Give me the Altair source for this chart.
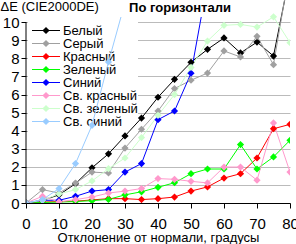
import altair as alt
import pandas as pd

# Viewing angle (degrees from the normal)
angles = [0, 5, 10, 15, 20, 25, 30, 35, 40, 45, 50, 55, 60, 65, 70, 75, 80]

# Colour difference ΔE (CIE2000) per test colour
white = [0, 0.15, 0.45, 1.07, 1.95, 2.72, 3.71, 4.7, 5.85, 6.84, 7.78, 8.5, 9.13, 8.3, 8.9, 8.13, 12.7]
grey = [0, 0.74, 0.55, 1.1, 1.71, 1.66, 3.04, 4.08, 5.09, 6.33, 6.79, 7.19, 8.41, 8.08, 9.22, 7.65, 13.0]
red = [0, 0.05, 0.08, 0.1, 0.17, 0.24, 0.24, 0.19, 0.24, 0.33, 0.66, 0.89, 1.38, 1.62, 2.49, 4.11, 4.35]
green = [0, 0.03, 0.05, 0.08, 0.13, 0.2, 0.45, 0.62, 0.87, 1.12, 1.62, 1.88, 1.88, 3.23, 1.88, 2.55, 3.47]
blue = [0, 0.15, 0.15, 0.37, 0.66, 0.74, 1.71, 2.18, 4.61, 5.09, 7.18, 12.2, None, None, None, None, None]
light_red = [0, 0.37, 0.06, 0.19, 0.33, 0.55, 0.66, 0.8, 1.35, 1.31, 1.2, 1.11, 1.99, 1.99, 1.26, 4.43, 1.71]
light_green = [0, 0.15, 0.5, 0.74, 1.22, 1.9, 2.49, 3.62, 4.85, 6.0, 7.5, 8.96, 9.83, 9.88, 9.73, 10.3, 8.87]
light_blue = [0, 0.19, 0.8, 2.18, 4.3, 7.8, 11.1, None, None, None, None, None, None, None, None, None, None]

names = ["Белый", "Серый", "Красный", "Зеленый", "Синий",
         "Св. красный", "Св. зеленый", "Св. синий"]
palette = ["#000000", "#A0A0A0", "#FF0000", "#00FF00", "#0000FF",
           "#FF99CC", "#CCFFCC", "#99CCFF"]
series = [white, grey, red, green, blue, light_red, light_green, light_blue]

y_ticks = list(range(0, 11))
x_ticks = list(range(0, 81, 10))

title_text = "По горизонтали"
y_title = "ΔE (CIE2000DE)"
x_title = "Отклонение от нормали, градусы"

rows = []
for k, (name, vals) in enumerate(zip(names, series)):
    for a, v in zip(angles, vals):
        if v is not None:
            rows.append({"angle": a, "dE": v, "series": name, "order": k})
df = pd.DataFrame(rows)
legend_df = pd.DataFrame({"series": names})

color = alt.Color("series:N", scale=alt.Scale(domain=names, range=palette), legend=None)
x_axis = alt.Axis(values=x_ticks, title=x_title, grid=False,
                  tickSize=5, labelPadding=8, labelFontSize=15,
                  labelOverlap=False, labelFlush=False, labelBound=False,
                  titleFontSize=13, titleFontWeight="normal",
                  titleBaseline="top", titleY=28,
                  domainColor="black", tickColor="black",
                  labelColor="black", titleColor="black")
y_axis = alt.Axis(values=y_ticks, title=y_title, grid=True,
                  gridColor="#BBBBBB", gridWidth=1, domain=False,
                  tickSize=5, tickColor="black", labelPadding=2,
                  labelFontSize=15, labelColor="black",
                  labelOverlap=False, labelFlush=False, labelBound=False,
                  titleAngle=0, titleAlign="left", titleBaseline="top",
                  titleX=-26, titleY=0, titleFontSize=13,
                  titleFontWeight="normal", titleColor="black")
x_enc = alt.X("angle:Q", scale=alt.Scale(domain=[0, 80], nice=False), axis=x_axis)
y_enc = alt.Y("dE:Q", scale=alt.Scale(domain=[0, 11.23], nice=False, zero=True), axis=y_axis)

base = alt.Chart(df)
lines = base.mark_line(strokeWidth=1, clip=True).encode(
    x=x_enc, y=y_enc, color=color, detail="series:N", order="angle:Q")
points = base.mark_point(shape="diamond", filled=True, size=52, opacity=1, clip=True).encode(
    x=x_enc, y=y_enc, color=color)
# Vertical axis line from 0 to 10 only
y_axis_line = alt.Chart(pd.DataFrame({"angle": [0], "dE": [0], "dE_top": [10]})).mark_rule(
    color="black", strokeWidth=1).encode(x=x_enc, y=y_enc, y2="dE_top:Q")
data_layer = alt.layer(lines, points, y_axis_line)

# Legend box drawn beneath the data lines
leg_y = alt.Y("series:N", scale=alt.Scale(domain=names, range=[24, 128], padding=0), axis=None)
leg_box = alt.Chart(alt.Data(values=[{"k": 1}])).mark_rect(color="white").encode(
    x=alt.value(2), x2=alt.value(112), y=alt.value(16), y2=alt.value(134))
leg = alt.Chart(legend_df)
leg_rules = leg.mark_rule(strokeWidth=1).encode(
    x=alt.value(6), x2=alt.value(34), y=leg_y, color=color)
leg_points = leg.mark_point(shape="diamond", filled=True, size=52, opacity=1).encode(
    x=alt.value(20), y=leg_y, color=color)
leg_text = leg.mark_text(align="left", baseline="middle", fontSize=13, color="black").encode(
    x=alt.value(37), y=leg_y, text="series:N")
legend_layer = alt.layer(leg_box, leg_rules, leg_points, leg_text)

# Chart title on a white box above the lines
title_data = alt.Data(values=[{"t": title_text}])
title_box = alt.Chart(title_data).mark_rect(color="white").encode(
    x=alt.value(94), x2=alt.value(214), y=alt.value(0), y2=alt.value(17))
title_mark = alt.Chart(title_data).mark_text(
    fontSize=13, fontWeight="bold", color="black", baseline="middle", align="center").encode(
    x=alt.value(154), y=alt.value(8), text="t:N")
title_layer = alt.layer(title_box, title_mark)

chart = alt.layer(legend_layer, data_layer, title_layer).resolve_scale(
    y="independent"
).properties(
    width=264, height=203,
    padding={"left": 26, "top": 0, "right": 6, "bottom": 41},
    autosize=alt.AutoSizeParams(type="none"),
).configure(
    font="Liberation Sans",
    background="white",
).configure_view(stroke=None)

chart.save("out.html", embed_options={"renderer": "svg", "actions": False})
